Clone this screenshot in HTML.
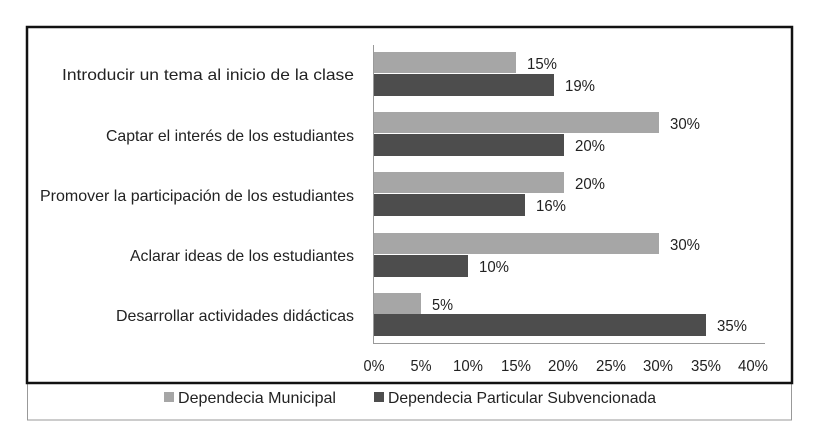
<!DOCTYPE html>
<html><head><meta charset="utf-8"><style>
html,body{margin:0;padding:0;background:#fff;}
svg{display:block;font-family:"Liberation Sans",sans-serif;}
</style></head><body>
<svg width="822" height="423" viewBox="0 0 822 423" xmlns="http://www.w3.org/2000/svg">
<rect x="0" y="0" width="822" height="423" fill="#fff"/>
<rect x="27.5" y="383" width="764" height="37" fill="none" stroke="#999" stroke-width="1"/>
<rect x="27" y="27" width="765" height="356" fill="none" stroke="#111" stroke-width="2.5"/>
<line x1="373.5" y1="45" x2="373.5" y2="343" stroke="#999" stroke-width="1"/>
<line x1="373" y1="343.5" x2="765" y2="343.5" stroke="#999" stroke-width="1"/>
<g fill="#a6a6a6">
<rect x="374" y="52" width="142" height="21"/>
<rect x="374" y="112" width="285" height="21"/>
<rect x="374" y="172" width="190" height="21"/>
<rect x="374" y="233" width="285" height="21"/>
<rect x="374" y="293" width="47" height="21"/>
</g>
<g fill="#4d4d4d">
<rect x="374" y="74" width="180" height="22"/>
<rect x="374" y="134" width="190" height="22"/>
<rect x="374" y="194" width="151" height="22"/>
<rect x="374" y="255" width="94" height="22"/>
<rect x="374" y="314" width="332" height="22"/>
</g>
<g font-size="16" fill="#222" lengthAdjust="spacingAndGlyphs">
<text x="527" y="69" textLength="30" lengthAdjust="spacingAndGlyphs">15%</text><text x="565" y="91" textLength="30" lengthAdjust="spacingAndGlyphs">19%</text>
<text x="670" y="129" textLength="30" lengthAdjust="spacingAndGlyphs">30%</text><text x="575" y="151" textLength="30" lengthAdjust="spacingAndGlyphs">20%</text>
<text x="575" y="189" textLength="30" lengthAdjust="spacingAndGlyphs">20%</text><text x="536" y="211" textLength="30" lengthAdjust="spacingAndGlyphs">16%</text>
<text x="670" y="250" textLength="30" lengthAdjust="spacingAndGlyphs">30%</text><text x="479" y="272" textLength="30" lengthAdjust="spacingAndGlyphs">10%</text>
<text x="432" y="310" textLength="21" lengthAdjust="spacingAndGlyphs">5%</text><text x="717" y="331" textLength="30" lengthAdjust="spacingAndGlyphs">35%</text>
</g>
<g font-size="16" fill="#222" text-anchor="end">
<text x="354" y="80" textLength="292" lengthAdjust="spacingAndGlyphs">Introducir un tema al inicio de la clase</text>
<text x="354" y="141" textLength="248" lengthAdjust="spacingAndGlyphs">Captar el interés de los estudiantes</text>
<text x="354" y="201" textLength="314" lengthAdjust="spacingAndGlyphs">Promover la participación de los estudiantes</text>
<text x="354" y="261" textLength="224" lengthAdjust="spacingAndGlyphs">Aclarar ideas de los estudiantes</text>
<text x="354" y="321" textLength="238" lengthAdjust="spacingAndGlyphs">Desarrollar actividades didácticas</text>
</g>
<g font-size="16" fill="#222" text-anchor="middle">
<text x="374" y="371" textLength="21" lengthAdjust="spacingAndGlyphs">0%</text><text x="421" y="371" textLength="21" lengthAdjust="spacingAndGlyphs">5%</text><text x="468" y="371" textLength="30" lengthAdjust="spacingAndGlyphs">10%</text>
<text x="516" y="371" textLength="30" lengthAdjust="spacingAndGlyphs">15%</text><text x="563" y="371" textLength="30" lengthAdjust="spacingAndGlyphs">20%</text><text x="611" y="371" textLength="30" lengthAdjust="spacingAndGlyphs">25%</text>
<text x="658" y="371" textLength="30" lengthAdjust="spacingAndGlyphs">30%</text><text x="706" y="371" textLength="30" lengthAdjust="spacingAndGlyphs">35%</text><text x="753" y="371" textLength="30" lengthAdjust="spacingAndGlyphs">40%</text>
</g>
<rect x="164" y="392" width="10" height="10" fill="#a6a6a6"/>
<text x="178" y="403" font-size="16" fill="#222" textLength="158" lengthAdjust="spacingAndGlyphs">Dependecia  Municipal</text>
<rect x="374" y="392" width="10" height="10" fill="#4d4d4d"/>
<text x="388" y="403" font-size="16" fill="#222" textLength="268" lengthAdjust="spacingAndGlyphs">Dependecia  Particular Subvencionada</text>
</svg>
</body></html>
